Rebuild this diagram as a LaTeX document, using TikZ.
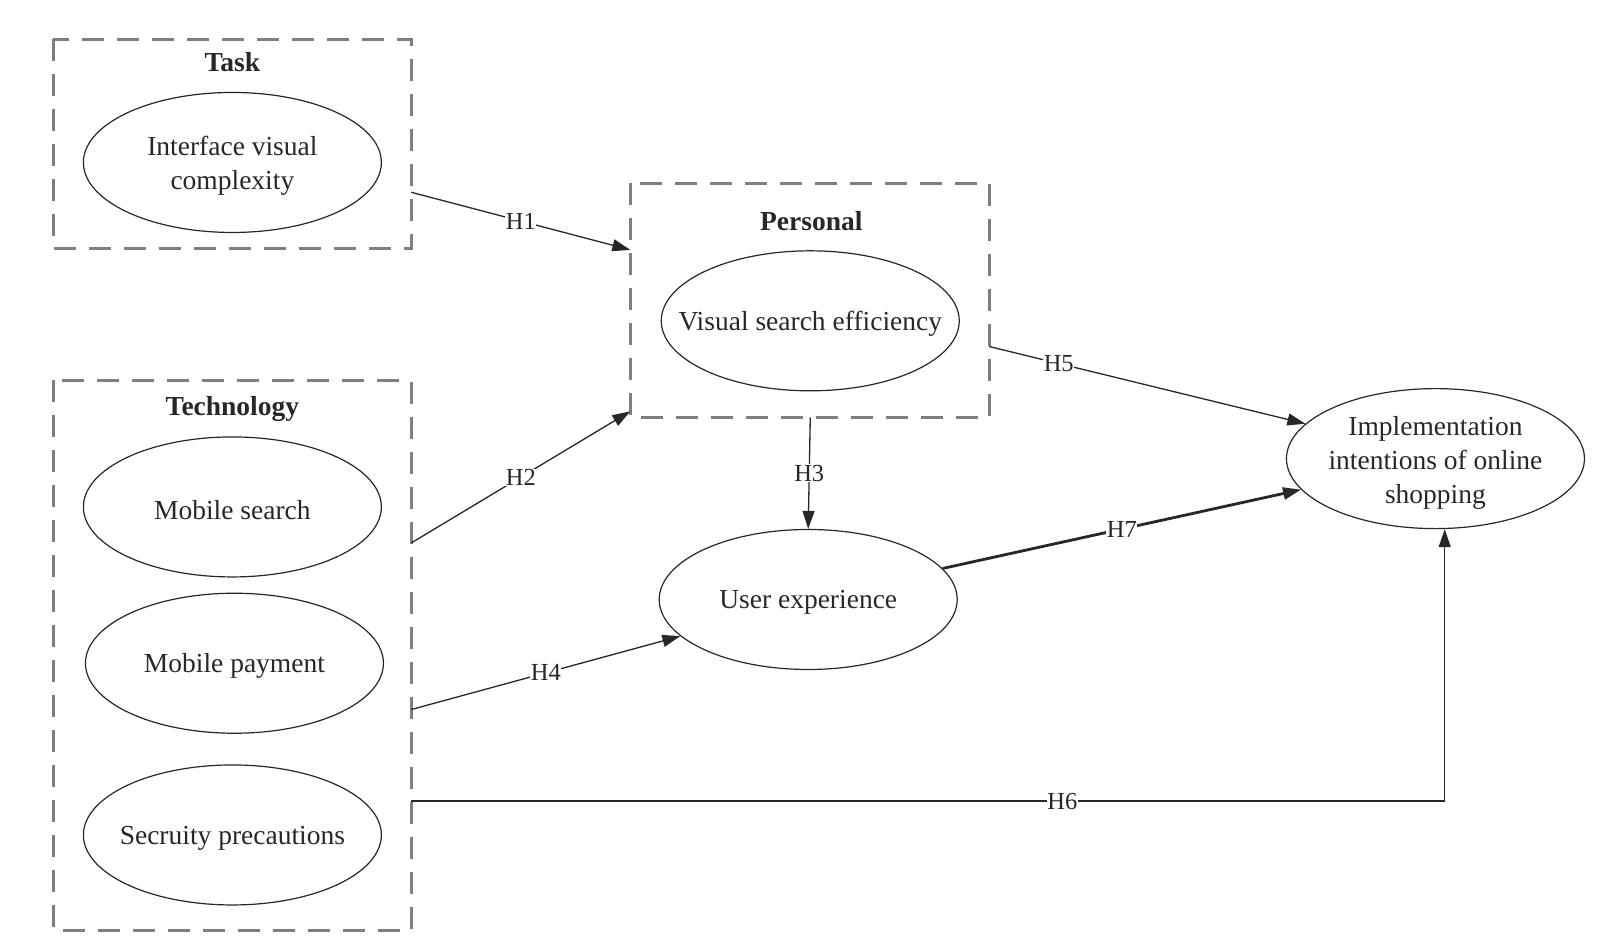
\documentclass[tikz,border=0pt]{standalone}
\usepackage{fontspec}
\setmainfont{Liberation Serif}
\usetikzlibrary{arrows.meta,shapes.geometric}
\definecolor{ink}{HTML}{25272B}
\definecolor{dashgray}{HTML}{7F7F7F}
\begin{document}
\begin{tikzpicture}[x=1.0283pt,y=-1.0283pt,
  grp/.style={draw=dashgray,line width=3pt,dash pattern=on 22pt off 13pt},
  ell/.style={ellipse,draw=ink,line width=1.2pt,minimum width=298pt,minimum height=140pt,inner sep=0pt},
  etxt/.style={align=center,font=\fontsize{27.5}{34}\selectfont,text=ink,inner sep=0pt,yshift=-3pt},
  ttl/.style={font=\fontsize{27.5}{32}\selectfont\bfseries,text=ink},
  conn/.style={draw=ink,line width=1.3pt,-{Triangle[length=18pt,width=12pt]}},
  lbl/.style={fill=white,inner sep=0.5pt,font=\fontsize{24.5}{28}\selectfont,text=ink}]
\useasboundingbox (0,0) rectangle (1567.7,925.8);
% group boxes
\draw[grp] (52,38) rectangle (400,242);
\draw[grp] (52,370) rectangle (400,905);
\draw[grp] (613,178) rectangle (962,406);
\coordinate (taskR) at (400,187);
\coordinate (techR2) at (400,528);
\coordinate (techR4) at (400,690);
\coordinate (techR6) at (400,779);
\coordinate (persL1) at (613,243);
\coordinate (persL2) at (613,400);
\coordinate (persB) at (788,406);
\coordinate (persR) at (962,337);
\coordinate (bend) at (1405,779);
\node[ttl] (task) at (226,60) {Task};
\node[ttl] (tech) at (226,398) {Technology};
\node[ttl] (pers) at (789,215) {Personal};
% constructs
\node[ell] (ivc) at (226,158) {};
\node[etxt] (ivcT) at (ivc) {Interface visual\\complexity};
\node[ell] (ms) at (226,493) {};
\node[etxt] (msT) at (ms) {Mobile search};
\node[ell] (mp) at (228,645) {};
\node[etxt] (mpT) at (mp) {Mobile payment};
\node[ell] (sp) at (226,812) {};
\node[etxt] (spT) at (sp) {Secruity precautions};
\node[ell] (vse) at (788,312) {};
\node[etxt] (vseT) at (vse) {Visual search efficiency};
\node[ell] (ux) at (786,583) {};
\node[etxt] (uxT) at (ux) {User experience};
\node[ell] (imp) at (1396,446) {};
\node[etxt,yshift=-1pt] (impT) at (imp) {Implementation\\intentions of online\\shopping};
% connectors
\draw[conn] (taskR) -- node[lbl,pos=0.5] {H1} (persL1);
\draw[conn] (techR2) -- node[lbl,pos=0.5] {H2} (persL2);
\draw[conn] (persB) -- node[lbl,pos=0.5] {H3} (ux.north);
\draw[conn] (techR4) -- node[lbl,pos=0.5] {H4} (ux.196);
\draw[conn] (persR) -- node[lbl,pos=0.22] {H5} (imp.165);
\draw[conn,line width=2.8pt] (ux.13) -- node[lbl,pos=0.5] {H7} (imp.193);
\draw[conn] (techR6) -- node[lbl,pos=0.63] {H6} (bend) -- (imp.south -| bend);
\end{tikzpicture}
\end{document}
